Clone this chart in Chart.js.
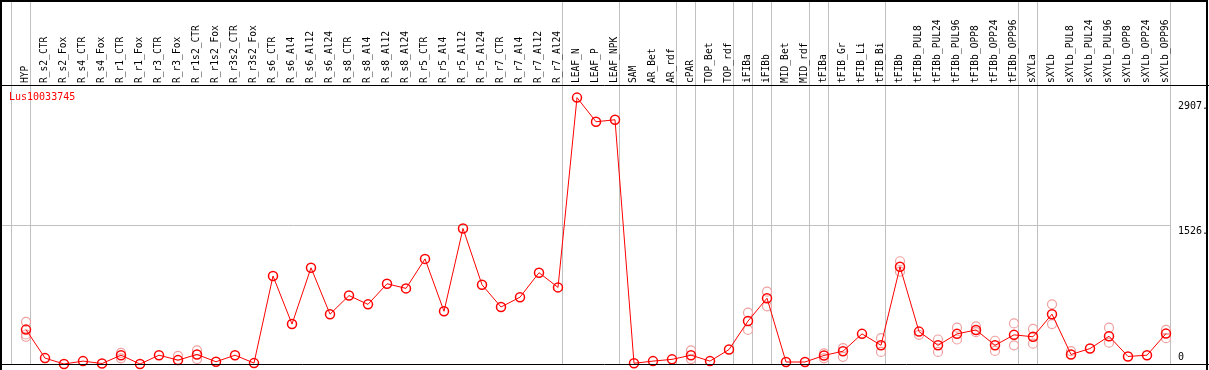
<!DOCTYPE html>
<html>
<head>
<meta charset="utf-8">
<script src="https://cdn.jsdelivr.net/npm/chart.js"></script>
<style>
  body { margin: 0; background: #fff; }
  canvas { display: block; }
</style>
</head>
<body>
<canvas id="exprChart" width="1209" height="370"></canvas>
<script>
// samples along the x axis
const samples = [
    'HYP', 'R_s2_CTR', 'R_s2_Fox', 'R_s4_CTR', 'R_s4_Fox', 'R_r1_CTR', 'R_r1_Fox',
    'R_r3_CTR', 'R_r3_Fox', 'R_r1s2_CTR', 'R_r1s2_Fox', 'R_r3s2_CTR', 'R_r3s2_Fox',
    'R_s6_CTR', 'R_s6_Al4', 'R_s6_Al12', 'R_s6_Al24', 'R_s8_CTR', 'R_s8_Al4',
    'R_s8_Al12', 'R_s8_Al24', 'R_r5_CTR', 'R_r5_Al4', 'R_r5_Al12', 'R_r5_Al24',
    'R_r7_CTR', 'R_r7_Al4', 'R_r7_Al12', 'R_r7_Al24', 'LEAF_N', 'LEAF_P', 'LEAF_NPK',
    'SAM', 'AR_Bet', 'AR_rdf', 'cPAR', 'TOP_Bet', 'TOP_rdf', 'iFIBa', 'iFIBb',
    'MID_Bet', 'MID_rdf', 'tFIBa', 'tFIB_Gr', 'tFIB_Li', 'tFIB_Bi', 'tFIBb',
    'tFIBb_PUL8', 'tFIBb_PUL24', 'tFIBb_PUL96', 'tFIBb_OPP8', 'tFIBb_OPP24', 'tFIBb_OPP96',
    'sXYLa', 'sXYLb', 'sXYLb_PUL8', 'sXYLb_PUL24', 'sXYLb_PUL96', 'sXYLb_OPP8',
    'sXYLb_OPP24', 'sXYLb_OPP96'
];

// mean expression per sample
const meanValues = [
    379, 65, 0, 32, 5, 97, 0, 97, 43, 105, 25, 97, 10,
    970, 440, 1060, 549, 754, 657, 884, 833, 1158, 581, 1493, 873,
    628, 736, 1006, 844, 2935, 2669, 2691,
    8, 32, 51, 97, 32, 159, 473, 725, 22, 22,
    94, 141, 332, 206, 1071,
    357, 206, 332, 375, 206, 321,
    300, 549, 105, 170, 306, 83, 97, 335
];

// individual replicates (pale circles)
const repSamples = [
    'HYP', 'HYP', 'HYP', 'R_r1_CTR', 'R_r1_CTR', 'R_r3_Fox', 'R_r1s2_CTR', 'R_r1s2_CTR',
    'cPAR', 'cPAR', 'iFIBa', 'iFIBa', 'iFIBb', 'iFIBb', 'tFIBa', 'tFIBa',
    'tFIB_Gr', 'tFIB_Gr', 'tFIB_Bi', 'tFIB_Bi', 'tFIBb', 'tFIBb',
    'tFIBb_PUL8', 'tFIBb_PUL24', 'tFIBb_PUL24', 'tFIBb_PUL96', 'tFIBb_PUL96',
    'tFIBb_OPP8', 'tFIBb_OPP8', 'tFIBb_OPP24', 'tFIBb_OPP24', 'tFIBb_OPP96', 'tFIBb_OPP96',
    'sXYLa', 'sXYLa', 'sXYLb', 'sXYLb', 'sXYLb_PUL8', 'sXYLb_PUL96', 'sXYLb_PUL96',
    'sXYLb_OPP96', 'sXYLb_OPP96'
];
const repValues = [
    465, 325, 300, 122, 62, 90, 151, 54,
    151, 54, 566, 375, 797, 635, 62, 116,
    176, 79, 285, 133, 1132, 1017,
    321, 270, 133, 400, 270,
    414, 351, 256, 144, 447, 206,
    386, 224, 657, 440, 141, 400, 235,
    375, 285
];

// group separators fall after these sample indices
const separatorsAfter = [-1, 0, 28, 31, 34, 35, 37, 38, 39, 41, 42, 45, 52, 53, 60];

const yTicks = [0, 1526, 2907];
const yTickLabels = ['0', '1526.', '2907.'];
const geneName = 'Lus10033745';

const MONO = 'DejaVu Sans Mono';

const framePlugin = {
    id: 'frame',
    beforeDraw(chart) {
        const { ctx, chartArea, scales } = chart;
        const xs = scales.x, ys = scales.y;
        ctx.save();
        ctx.strokeStyle = '#c0c0c0';
        ctx.lineWidth = 1;
        separatorsAfter.forEach(i => {
            const x = Math.round(xs.getPixelForValue(i)) + 4.5;
            ctx.beginPath();
            ctx.moveTo(x, 0);
            ctx.lineTo(x, chartArea.bottom);
            ctx.stroke();
        });
        // horizontal grid at the middle tick
        const gy = Math.round(ys.getPixelForValue(yTicks[1])) + 0.5;
        const lastX = Math.round(xs.getPixelForValue(separatorsAfter[separatorsAfter.length - 1])) + 4.5;
        ctx.beginPath();
        ctx.moveTo(1, gy);
        ctx.lineTo(lastX, gy);
        ctx.stroke();
        ctx.restore();
    },
    afterDraw(chart) {
        const { ctx, chartArea, scales, width } = chart;
        const ys = scales.y;
        ctx.save();
        // outer frame and header rule
        ctx.strokeStyle = '#000';
        ctx.lineWidth = 2;
        ctx.beginPath();
        ctx.moveTo(1, 370);
        ctx.lineTo(1, 1);
        ctx.lineTo(width - 2, 1);
        ctx.lineTo(width - 2, 370);
        ctx.stroke();
        ctx.lineWidth = 1;
        ctx.beginPath();
        ctx.moveTo(0, chartArea.top - 0.5);
        ctx.lineTo(width, chartArea.top - 0.5);
        ctx.moveTo(0, chartArea.bottom + 0.5);
        ctx.lineTo(width, chartArea.bottom + 0.5);
        ctx.stroke();

        // gene name
        ctx.fillStyle = '#ff0000';
        ctx.font = '10px "' + MONO + '"';
        ctx.textBaseline = 'top';
        ctx.textAlign = 'left';
        ctx.fillText(geneName, 9, chartArea.top + 6);

        // y tick labels on the right
        ctx.fillStyle = '#000';
        yTicks.forEach((v, i) => {
            const y = Math.min(ys.getPixelForValue(v) + 1, chartArea.bottom - 12);
            ctx.fillText(yTickLabels[i], 1178, y);
        });
        ctx.restore();
    }
};

const ctx = document.getElementById('exprChart').getContext('2d');
new Chart(ctx, {
    type: 'line',
    data: {
        labels: samples,
        datasets: [{
            label: geneName,
            data: meanValues,
            borderColor: '#ff0000',
            borderWidth: 1,
            backgroundColor: 'rgba(0,0,0,0)',
            pointRadius: 4.5,
            pointBorderWidth: 1.5,
            pointBorderColor: '#ff0000',
            pointBackgroundColor: 'rgba(0,0,0,0)',
            tension: 0,
            clip: false,
            order: 1
        }, {
            label: 'replicates',
            data: repSamples.map((s, i) => ({ x: s, y: repValues[i] })),
            showLine: false,
            pointRadius: 4.5,
            pointBorderWidth: 1.2,
            pointBorderColor: '#f0a0a0',
            pointBackgroundColor: 'rgba(0,0,0,0)',
            clip: false,
            order: 2
        }]
    },
    options: {
        responsive: false,
        animation: false,
        events: [],
        layout: { padding: { left: 26, top: 0, right: 0, bottom: 1 } },
        plugins: {
            legend: { display: false },
            tooltip: { enabled: false },
            title: { display: false }
        },
        scales: {
            x: {
                type: 'category',
                position: 'top',
                offset: false,
                grid: { display: false, drawTicks: false },
                border: { display: false },
                ticks: {
                    autoSkip: false,
                    minRotation: 90,
                    maxRotation: 90,
                    padding: 3,
                    labelOffset: 11,
                    color: '#000',
                    font: { family: MONO, size: 9.6 }
                },
                afterFit: s => { s.height = 86; }
            },
            y: {
                position: 'right',
                min: 0,
                max: 3063,
                grid: { display: false, drawTicks: false },
                border: { display: false },
                ticks: { display: false },
                afterBuildTicks: s => { s.ticks = yTicks.map(v => ({ value: v })); },
                afterFit: s => { s.width = 43; }
            }
        }
    },
    plugins: [framePlugin]
});
</script>
</body>
</html>
